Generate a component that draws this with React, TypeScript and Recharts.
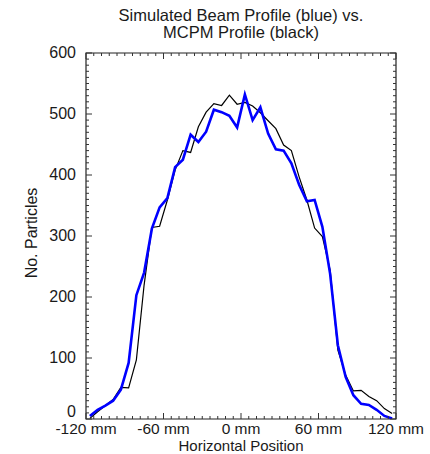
import React from 'react';
import { LineChart, Line, XAxis, YAxis, ReferenceArea, Customized } from 'recharts';

const positions = [
  -117, -111, -105, -99, -93, -87, -81, -75, -69, -63,
  -57, -51, -45, -39, -33, -27, -21, -15, -9, -3,
  3, 9, 15, 21, 27, 33, 39, 45, 51, 57,
  63, 69, 75, 81, 87, 93, 99, 105, 111, 117,
];

const simulated = [
  5, 15, 22, 30, 48, 92, 203, 240, 312, 347,
  362, 413, 425, 466, 454, 471, 507, 503, 497, 478,
  532, 490, 511, 468, 442, 440, 419, 384, 357, 359,
  315, 238, 121, 69, 39, 25, 23, 15, 5, 1,
];

const mcpm = [
  1, 12, 22, 32, 52, 51, 97, 220, 314, 316,
  359, 408, 440, 437, 479, 503, 517, 514, 531, 516,
  519, 513, 502, 489, 476, 449, 440, 397, 359, 313,
  299, 244, 113, 72, 46, 47, 37, 30, 17, 9,
];

const xMajorTicks = [-120, -60, 0, 60, 120];
const yMajorTicks = [0, 100, 200, 300, 400, 500, 600];

const title1 = 'Simulated Beam Profile (blue) vs.';
const title2 = 'MCPM Profile (black)';
const xTitle = 'Horizontal Position';
const yTitle = 'No. Particles';

const data = positions.map((x, i) => ({ x, sim: simulated[i], mcpm: mcpm[i] }));

const xMinor = Array.from({ length: 41 }, (_, i) => -120 + i * 6);
const yMinor = Array.from({ length: 61 }, (_, i) => i * 10);

const W = 430;
const H = 454;
const LEFT = 86;
const RIGHT = 396;
const TOP = 53;
const BOTTOM = 419;
const FONT = '"Liberation Sans", Arial, Helvetica, sans-serif';
const TXT = '#1a1a1a';

const XTick = (props: any) => {
  const { x, payload } = props;
  const v = payload.value;
  const major = xMajorTicks.includes(v);
  const len = major ? 6 : 3;
  return (
    <g>
      <line x1={x} x2={x} y1={BOTTOM} y2={BOTTOM - len} stroke="#333" strokeWidth={1} />
      <line x1={x} x2={x} y1={TOP} y2={TOP + len} stroke="#333" strokeWidth={1} />
      {major && (
        <text x={x} y={BOTTOM + 15} textAnchor="middle" fontSize={15.5} fontFamily={FONT} fill={TXT}>
          {`${v} mm`}
        </text>
      )}
    </g>
  );
};

const YTick = (props: any) => {
  const { y, payload } = props;
  const v = payload.value;
  const major = yMajorTicks.includes(v);
  const len = major ? 6 : 3;
  const dy = v === 0 ? -2.5 : 5;
  return (
    <g>
      <line x1={LEFT} x2={LEFT + len} y1={y} y2={y} stroke="#333" strokeWidth={1} />
      <line x1={RIGHT} x2={RIGHT - len} y1={y} y2={y} stroke="#333" strokeWidth={1} />
      {major && (
        <text x={LEFT - 10} y={y + dy} textAnchor="end" fontSize={16} fontFamily={FONT} fill={TXT}>
          {v}
        </text>
      )}
    </g>
  );
};

const Titles = () => (
  <g fontFamily={FONT} fill={TXT}>
    <text x={241} y={21} textAnchor="middle" fontSize={16.5}>{title1}</text>
    <text x={241} y={38} textAnchor="middle" fontSize={16.5}>{title2}</text>
    <text x={241} y={450.6} textAnchor="middle" fontSize={15}>{xTitle}</text>
    <text x={37} y={233} textAnchor="middle" fontSize={16} transform="rotate(-90 37 233)">{yTitle}</text>
  </g>
);

export default function App() {
  return (
    <div style={{ position: 'absolute', left: 0, top: 0, width: W, height: H, background: '#fff' }}>
      <LineChart width={W} height={H} data={data} margin={{ top: TOP, right: W - RIGHT, left: 0, bottom: 0 }}>
        <XAxis
          dataKey="x"
          type="number"
          domain={[-120, 120]}
          allowDataOverflow
          ticks={xMinor}
          interval={0}
          tick={<XTick />}
          tickLine={false}
          axisLine={false}
          height={H - BOTTOM}
        />
        <YAxis
          type="number"
          domain={[0, 600]}
          allowDataOverflow
          ticks={yMinor}
          interval={0}
          tick={<YTick />}
          tickLine={false}
          axisLine={false}
          width={LEFT}
        />
        <ReferenceArea x1={-120} x2={120} y1={0} y2={600} fill="none" stroke="#222" strokeWidth={1.2} fillOpacity={0} />
        <Line type="linear" dataKey="mcpm" stroke="#000" strokeWidth={1.2} dot={false} isAnimationActive={false} />
        <Line type="linear" dataKey="sim" stroke="#0000ff" strokeWidth={2.6} dot={false} isAnimationActive={false} />
        <Customized component={Titles} />
      </LineChart>
    </div>
  );
}
